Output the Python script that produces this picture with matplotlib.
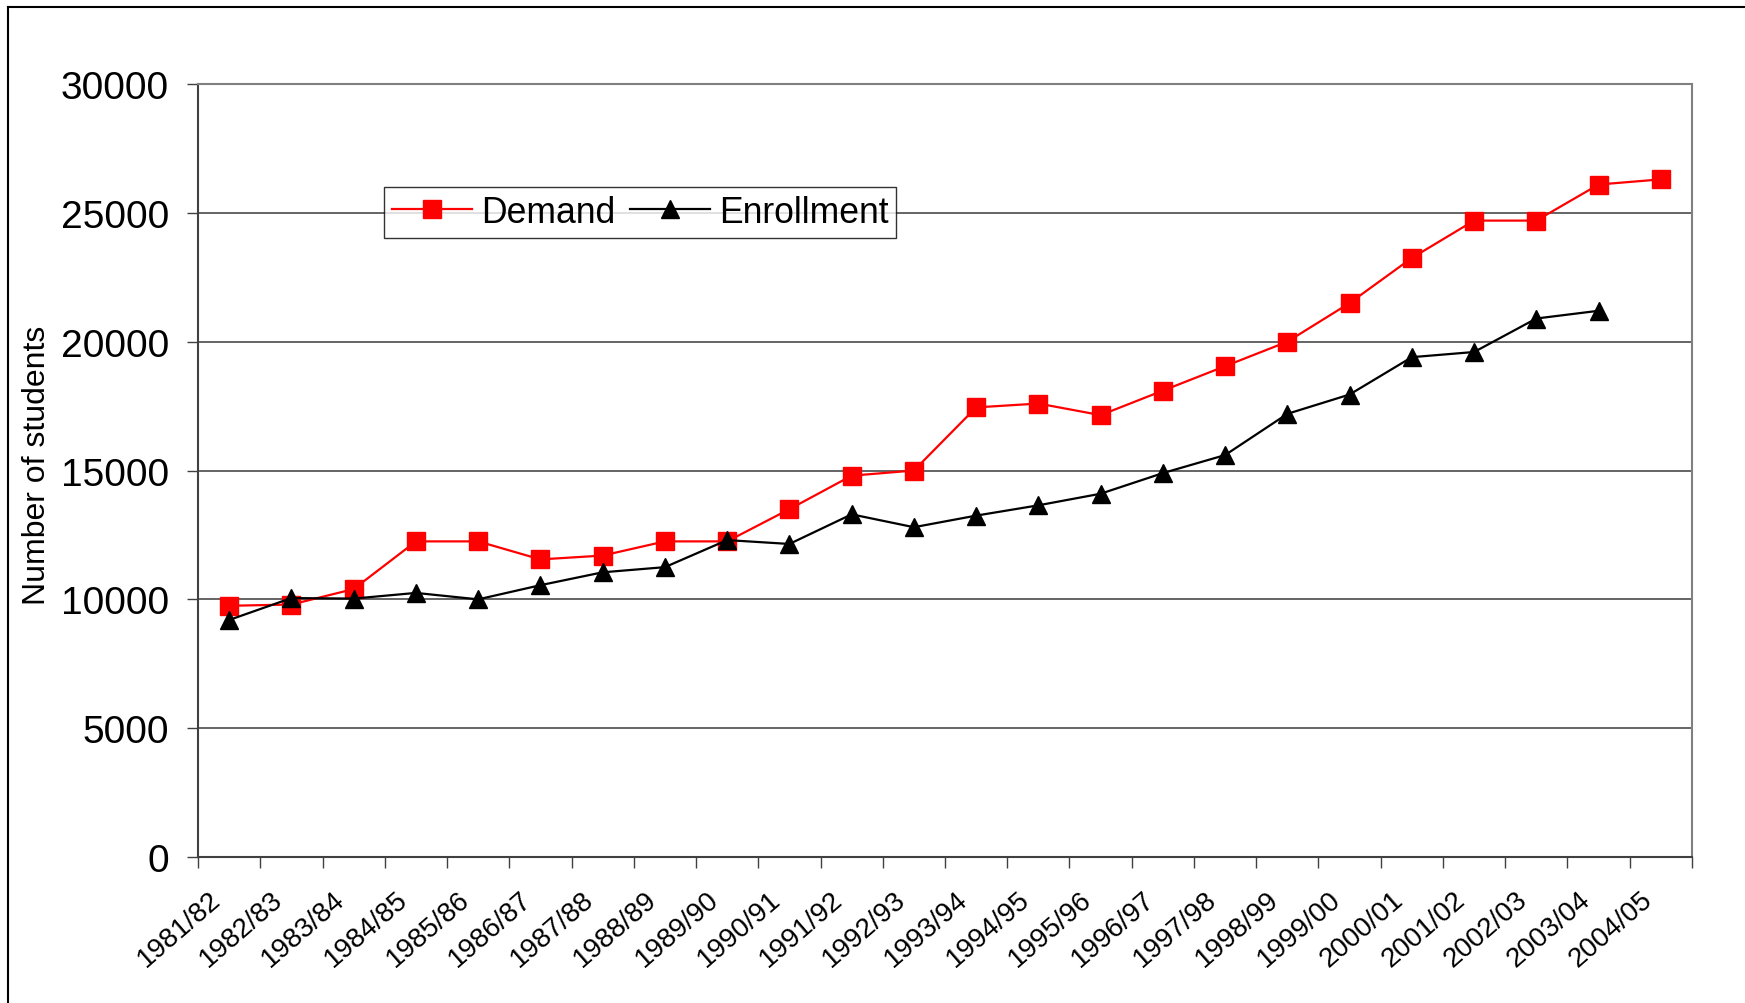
import numpy as np
import matplotlib
matplotlib.use("Agg")
import matplotlib.pyplot as plt
from matplotlib.lines import Line2D

plt.rcParams['font.family'] = ['Liberation Sans', 'DejaVu Sans']

# academic years on the category axis
years = ['1981/82', '1982/83', '1983/84', '1984/85', '1985/86', '1986/87',
         '1987/88', '1988/89', '1989/90', '1990/91', '1991/92', '1992/93',
         '1993/94', '1994/95', '1995/96', '1996/97', '1997/98', '1998/99',
         '1999/00', '2000/01', '2001/02', '2002/03', '2003/04', '2004/05']

# number of students
demand = [9750, 9800, 10400, 12250, 12250, 11550, 11700, 12250, 12250, 13500,
          14800, 15000, 17450, 17600, 17150, 18100, 19050, 20000, 21500, 23250,
          24700, 24700, 26100, 26300]
enrollment = [9200, 10050, 10030, 10250, 10000, 10550, 11050, 11250, 12300, 12150,
              13300, 12800, 13250, 13650, 14100, 14900, 15600, 17200, 17950, 19400,
              19600, 20900, 21200]

y_ticks = [0, 5000, 10000, 15000, 20000, 25000, 30000]

fig = plt.figure(figsize=(17.45, 10.04), dpi=100)
ax = fig.add_axes([0.1135, 0.1454, 0.8561, 0.7699])

x = np.arange(len(years))
ax.plot(x, demand, color='#ff0000', lw=1.6, marker='s', markersize=13,
        markeredgecolor='#ff0000', label='Demand', zorder=3)
ax.plot(x[:len(enrollment)], enrollment, color='black', lw=1.6, marker='^',
        markersize=13, label='Enrollment', zorder=3)

ax.set_xlim(-0.5, len(years) - 0.5)
ax.set_ylim(0, 30000)

# tick marks sit between categories; the slanted labels hang just left of centre
ax.set_xticks(np.arange(-0.5, len(years), 1))
ax.set_xticklabels([])
ax.set_xticks(x - 0.33, minor=True)
ax.set_xticklabels(years, minor=True, rotation=41, ha='right',
                   rotation_mode='anchor', fontsize=20)
ax.tick_params(axis='x', which='major', direction='out', length=8, width=1, color='#404040')
ax.tick_params(axis='x', which='minor', length=0, pad=21)

ax.set_yticks(y_ticks)
ax.set_yticklabels([str(v) for v in y_ticks], fontsize=28)
ax.tick_params(axis='y', direction='out', length=8, width=1, color='#404040', pad=13)

ax.grid(axis='y', color='#3a3a3a', lw=1.1)
ax.set_axisbelow(True)

for side in ['top', 'right']:
    ax.spines[side].set_color('#808080')
    ax.spines[side].set_linewidth(1.5)
for side in ['left', 'bottom']:
    ax.spines[side].set_color('#404040')
    ax.spines[side].set_linewidth(1.5)

ax.set_ylabel('Number of students', fontsize=23)
ax.yaxis.set_label_coords(-0.098, 0.508)

leg = ax.legend(loc='upper left', bbox_to_anchor=(0.1245, 0.8668), ncol=2,
                fontsize=25.6, frameon=True, fancybox=False, edgecolor='black',
                borderaxespad=0, handlelength=2.25, handletextpad=0.26,
                columnspacing=0.4, borderpad=0.22)
leg.get_frame().set_linewidth(1.0)

# outer chart border (left and top edges)
fig.add_artist(Line2D([0.0045, 0.0045], [0, 0.992], color='black', lw=1.5))
fig.add_artist(Line2D([0.0045, 1.0], [0.992, 0.992], color='black', lw=1.5))

fig.savefig('out.png', dpi=100)
